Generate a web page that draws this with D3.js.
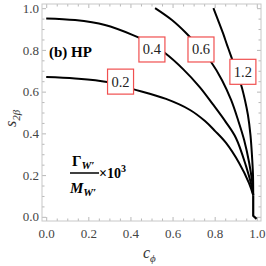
<!DOCTYPE html>
<html>
<head>
<meta charset="utf-8">
<script src="https://cdn.jsdelivr.net/npm/d3@7"></script>
<style>
body{margin:0;background:#fff;}
svg{display:block;font-family:"Liberation Serif","DejaVu Serif",serif;}
</style>
</head>
<body>
<script>
// contour levels of Gamma/M x 10^3, each as [c_phi, s_2beta] points
var levels = ["0.2", "0.4", "0.6", "1.2"];
var contour02 = [[0,0.670],[0.137,0.663],[0.289,0.646],[0.412,0.612],[0.569,0.565],[0.683,0.512],[0.754,0.459],[0.802,0.411],[0.854,0.354],[0.916,0.258],[0.963,0.162],[0.983,0.104]];
var contour04 = [[0,0.951],[0.137,0.943],[0.279,0.919],[0.412,0.871],[0.493,0.833],[0.564,0.785],[0.650,0.708],[0.729,0.622],[0.791,0.540],[0.853,0.454],[0.901,0.378],[0.949,0.243],[0.973,0.157],[0.983,0.104]];
var contour06 = [[0.517,1.0],[0.597,0.943],[0.664,0.881],[0.730,0.809],[0.783,0.742],[0.835,0.655],[0.878,0.560],[0.911,0.464],[0.940,0.368],[0.964,0.258],[0.978,0.167],[0.983,0.104]];
var contour12 = [[0.794,1.0],[0.816,0.943],[0.840,0.879],[0.859,0.823],[0.879,0.767],[0.901,0.703],[0.926,0.631],[0.944,0.559],[0.958,0.488],[0.970,0.392],[0.977,0.296],[0.982,0.200],[0.983,0.104]];
var tail = [[0.983,0.104],[0.983,0.005],[0.999,-0.01]];
// label positions
var labelX = [0.353, 0.502, 0.735, 0.934];
var labelY = [0.648, 0.802, 0.802, 0.695];
var xTicks = [0, 0.2, 0.4, 0.6, 0.8, 1.0];
var yTicks = [0, 0.2, 0.4, 0.6, 0.8, 1.0];

var W = 266, H = 266;
var L = 42, R = 261, T = 4, B = 221;

var svg = d3.select("body").append("svg")
  .attr("width", W)
  .attr("height", H);

var x = d3.scaleLinear().domain([-0.02, 1.02]).range([L, R]);
var y = d3.scaleLinear().domain([-0.02, 1.02]).range([B, T]);

var minor = d3.range(0, 1.0001, 0.05).map(function(v){ return +v.toFixed(2); })
  .filter(function(v){ return xTicks.indexOf(v) < 0; });

function tickAxis(axis, scale, vals, size, tx, ty){
  var g = svg.append("g").attr("transform", "translate(" + tx + "," + ty + ")")
    .call(axis(scale).tickValues(vals).tickSize(size).tickFormat(""));
  g.select(".domain").remove();
  g.selectAll("line").attr("stroke", "#b8b8b8");
}
// ticks pointing inward on all four sides
tickAxis(d3.axisBottom, x, xTicks, -4, 0, B);
tickAxis(d3.axisBottom, x, minor, -2.5, 0, B);
tickAxis(d3.axisTop, x, xTicks, -4, 0, T);
tickAxis(d3.axisTop, x, minor, -2.5, 0, T);
tickAxis(d3.axisLeft, y, yTicks, -4, L, 0);
tickAxis(d3.axisLeft, y, minor, -2.5, L, 0);
tickAxis(d3.axisRight, y, yTicks, -4, R, 0);
tickAxis(d3.axisRight, y, minor, -2.5, R, 0);

svg.append("rect")
  .attr("x", L).attr("y", T)
  .attr("width", R - L).attr("height", B - T)
  .attr("fill", "none")
  .attr("stroke", "#c8c8c8")
  .attr("stroke-width", 1);

// tick labels
var gx = svg.append("g").attr("transform", "translate(0," + B + ")")
  .call(d3.axisBottom(x).tickValues(xTicks).tickSize(0).tickPadding(8).tickFormat(d3.format(".1f")));
gx.select(".domain").remove();
gx.selectAll("text").attr("font-size", 13).attr("fill", "#444").attr("font-family", "Liberation Serif");

var gy = svg.append("g").attr("transform", "translate(" + L + ",0)")
  .call(d3.axisLeft(y).tickValues(yTicks).tickSize(0).tickPadding(3).tickFormat(d3.format(".1f")));
gy.select(".domain").remove();
gy.selectAll("text").attr("font-size", 13).attr("fill", "#444").attr("font-family", "Liberation Serif");

// contours
var line = d3.line()
  .x(function(d){ return x(d[0]); })
  .y(function(d){ return y(d[1]); })
  .curve(d3.curveCatmullRom);

[contour02, contour04, contour06, contour12].forEach(function(c){
  svg.append("path").attr("d", line(c))
    .attr("fill", "none").attr("stroke", "#000").attr("stroke-width", 2);
});
svg.append("path").attr("d", d3.line().x(function(d){return x(d[0]);}).y(function(d){return y(d[1]);})(tail))
  .attr("fill", "none").attr("stroke", "#000").attr("stroke-width", 2.2);

// contour labels
levels.forEach(function(lv, i){
  var cx = x(labelX[i]), cy = y(labelY[i]);
  svg.append("rect")
    .attr("x", cx - 13).attr("y", cy - 12.5)
    .attr("width", 26).attr("height", 25)
    .attr("fill", "#fff")
    .attr("stroke", "#f05050")
    .attr("stroke-width", 1.2);
  svg.append("text")
    .attr("x", cx).attr("y", cy + 5)
    .attr("text-anchor", "middle")
    .attr("font-size", 14.5)
    .attr("fill", "#222")
    .text(lv);
});

// panel tag
svg.append("text")
  .attr("x", 49).attr("y", 57)
  .attr("font-size", 15).attr("font-weight", "bold")
  .text("(b) HP");

// Gamma/M x 10^3
var fr = svg.append("g").attr("font-weight", "bold").attr("font-size", 15);
var num = fr.append("text").attr("x", 72).attr("y", 166);
num.append("tspan").text("Γ");
num.append("tspan").attr("font-size", 11).attr("font-style", "italic").attr("dy", 3).text("W′");
var den = fr.append("text").attr("x", 70).attr("y", 193).attr("font-style", "italic");
den.append("tspan").text("M");
den.append("tspan").attr("font-size", 11).attr("dy", 3).text("W′");
fr.append("line").attr("x1", 70).attr("x2", 99).attr("y1", 173).attr("y2", 173)
  .attr("stroke", "#000").attr("stroke-width", 1.5);
var pw = fr.append("text").attr("x", 99).attr("y", 178).attr("font-size", 14);
pw.append("tspan").text("×10");
pw.append("tspan").attr("font-size", 10).attr("dy", -6).text("3");

// axis titles
var xt = svg.append("text").attr("x", 143).attr("y", 258)
  .attr("font-style", "italic").attr("font-size", 16).attr("fill", "#333");
xt.append("tspan").text("c");
xt.append("tspan").attr("font-size", 11).attr("dy", 4).text("ϕ");

var yt = svg.append("text")
  .attr("transform", "translate(16,127) rotate(-90)")
  .attr("font-style", "italic").attr("font-size", 16).attr("fill", "#333");
yt.append("tspan").text("s");
yt.append("tspan").attr("font-size", 11).attr("dy", 4).text("2");
yt.append("tspan").attr("font-size", 11).text("β");
</script>
</body>
</html>
